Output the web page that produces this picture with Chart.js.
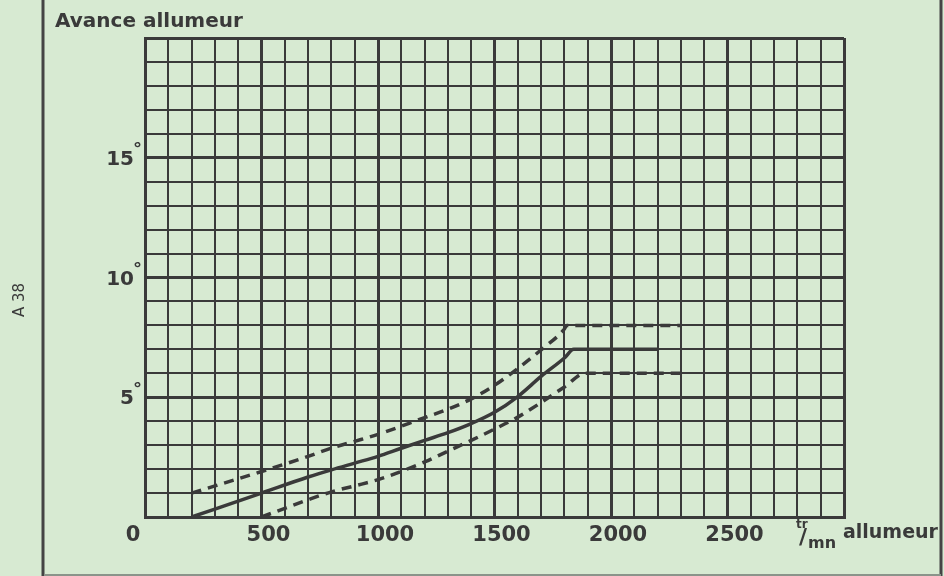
<!DOCTYPE html>
<html>
<head>
<meta charset="utf-8">
<script src="https://cdn.jsdelivr.net/npm/chart.js@4"></script>
<style>
  html, body { margin: 0; padding: 0; background: #d7ead2; }
  #wrap { width: 944px; height: 576px; position: relative; }
</style>
</head>
<body>
<div id="wrap"><canvas id="chart" width="944" height="576"></canvas></div>
<script>
// Courbe nominale (tr/mn allumeur -> degrés)
const rpmNominal = [200, 500, 700, 800, 900, 1000, 1100, 1200, 1300, 1400, 1500, 1600, 1700, 1800, 1840, 2200];
const degNominal = [0, 1.0, 1.67, 1.97, 2.25, 2.53, 2.87, 3.2, 3.52, 3.9, 4.37, 5.03, 5.87, 6.64, 7, 7];
// Tolérance haute
const rpmHaute = [200, 500, 700, 800, 900, 1000, 1200, 1300, 1400, 1500, 1600, 1700, 1800, 1810, 2300];
const degHaute = [1, 1.9, 2.53, 2.88, 3.16, 3.45, 4.15, 4.5, 4.93, 5.5, 6.2, 6.98, 7.85, 8, 8];
// Tolérance basse
const rpmBasse = [500, 700, 800, 900, 1000, 1200, 1300, 1400, 1500, 1600, 1700, 1800, 1890, 2300];
const degBasse = [0, 0.72, 1.05, 1.3, 1.56, 2.3, 2.75, 3.2, 3.67, 4.17, 4.78, 5.43, 6, 6];

const xLabels = [0, 500, 1000, 1500, 2000, 2500];
const yLabels = [5, 10, 15];

const INK = '#3a3a3a';
const FONT = '"DejaVu Sans", sans-serif';

function pts(xs, ys) {
  return xs.map((x, i) => ({ x: x, y: ys[i] }));
}

// Textes et cadre dessinés par-dessus
const decor = {
  id: 'decor',
  afterDraw(chart) {
    const ctx = chart.ctx;
    const sx = chart.scales.x;
    const sy = chart.scales.y;
    ctx.save();
    ctx.fillStyle = INK;
    ctx.textBaseline = 'middle';

    ctx.font = 'bold 21px ' + FONT;
    ctx.textAlign = 'center';
    xLabels.forEach(v => {
      const px = sx.getPixelForValue(v) + (v === 0 ? -12 : 7);
      ctx.fillText(String(v), px, 536);
    });

    yLabels.forEach(v => {
      const py = sy.getPixelForValue(v);
      ctx.font = 'bold 20px ' + FONT;
      ctx.textAlign = 'right';
      ctx.fillText(String(v), 134, py + 2);
      ctx.font = 'bold 18px ' + FONT;
      ctx.textAlign = 'left';
      ctx.fillText('°', 133, py - 7);
    });

    ctx.font = 'bold 20px ' + FONT;
    ctx.textAlign = 'left';
    ctx.fillText('Avance allumeur', 55, 22);

    // unité tr/mn
    ctx.font = 'bold 12px ' + FONT;
    ctx.fillText('tr', 796, 525);
    ctx.font = 'bold 22px ' + FONT;
    ctx.fillText('/', 799, 538);
    ctx.font = 'bold 16px ' + FONT;
    ctx.fillText('mn', 808, 544);
    ctx.font = 'bold 19px ' + FONT;
    ctx.fillText('allumeur', 843, 533);

    ctx.translate(20, 300);
    ctx.rotate(-Math.PI / 2);
    ctx.font = '15px ' + FONT;
    ctx.textAlign = 'center';
    ctx.fillText('A 38', 0, 0);
    ctx.restore();

    // cadre de la planche
    ctx.save();
    ctx.strokeStyle = '#444';
    ctx.lineWidth = 3;
    ctx.beginPath();
    ctx.moveTo(43, 0); ctx.lineTo(43, 576);
    ctx.moveTo(941, 0); ctx.lineTo(941, 576);
    ctx.stroke();
    ctx.strokeStyle = '#8a948a';
    ctx.lineWidth = 2;
    ctx.beginPath();
    ctx.moveTo(44, 575); ctx.lineTo(941, 575);
    ctx.stroke();
    ctx.restore();
  }
};

new Chart(document.getElementById('chart'), {
  type: 'line',
  data: {
    datasets: [
      {
        data: pts(rpmNominal, degNominal),
        borderColor: INK, borderWidth: 3.5, pointRadius: 0, cubicInterpolationMode: 'monotone'
      },
      {
        data: pts(rpmHaute, degHaute),
        borderColor: INK, borderWidth: 3.5, borderDash: [10, 7], pointRadius: 0, cubicInterpolationMode: 'monotone'
      },
      {
        data: pts(rpmBasse, degBasse),
        borderColor: INK, borderWidth: 3.5, borderDash: [10, 7], pointRadius: 0, cubicInterpolationMode: 'monotone'
      }
    ]
  },
  options: {
    responsive: false,
    animation: false,
    layout: { padding: { left: 145, right: 100, top: 38, bottom: 59 } },
    plugins: { legend: { display: false }, tooltip: { enabled: false } },
    scales: {
      x: {
        type: 'linear', min: 0, max: 3000,
        ticks: { display: false, stepSize: 100 },
        grid: {
          drawTicks: false, color: INK,
          lineWidth: c => (c.tick && c.tick.value % 500 === 0 ? 3 : 2)
        },
        border: { color: INK, width: 3 }
      },
      y: {
        min: 0, max: 20,
        ticks: { display: false, stepSize: 1 },
        grid: {
          drawTicks: false, color: INK,
          lineWidth: c => (c.tick && c.tick.value % 5 === 0 ? 3 : 2)
        },
        border: { color: INK, width: 3 }
      }
    }
  },
  plugins: [decor]
});
</script>
</body>
</html>
